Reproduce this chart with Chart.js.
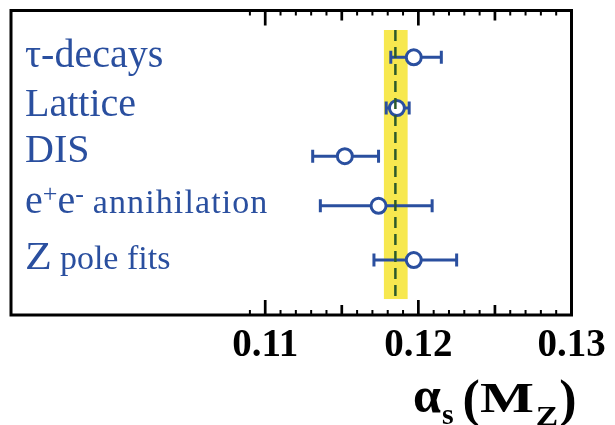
<!DOCTYPE html>
<html><head><meta charset="utf-8">
<script src="https://cdn.jsdelivr.net/npm/chart.js@4.4.1/dist/chart.umd.min.js"></script>
<style>html,body{margin:0;padding:0;background:#fff;}#wrap{width:615px;height:425px;position:relative;}</style>
</head><body><div id="wrap"><canvas id="c"></canvas></div>
<script>
// ---- data ----
const categories = ['τ-decays', 'Lattice', 'DIS', 'e+e- annihilation', 'Z pole fits'];
const rows = [1, 2, 2.95, 3.93, 5];
const centralValues = [0.1197, 0.1186, 0.1152, 0.1174, 0.1197];
const lowerValues   = [0.1182, 0.1179, 0.1131, 0.1136, 0.1171];
const upperValues   = [0.1215, 0.1194, 0.1174, 0.1209, 0.1225];
const worldAverage = [0.1185];
const worldBand = [0.11775, 0.1193];
const bandRows = [0.46, 5.77];
const tickValues = [0.11, 0.12, 0.13];
const tickLabels = ['0.11', '0.12', '0.13'];
const axisRange = [0.0934, 0.13];
const rowRange = [0.075, 6.085];

const BLUE = '#2a4f9f';
const SERIF = '"Liberation Serif", "Times New Roman", serif';

const datasets = [];
// dashed world-average line (on top)
datasets.push({
  type: 'scatter', showLine: true,
  data: [{x: worldAverage[0], y: bandRows[0]}, {x: worldAverage[0], y: bandRows[1]}],
  borderColor: '#2c5a2a', borderWidth: 2.5, borderDash: [11, 6], pointRadius: 0
});
// central values
datasets.push({
  type: 'scatter',
  data: centralValues.map((v, i) => ({x: v, y: rows[i]})),
  pointStyle: 'circle', pointRadius: 7.5, pointBorderWidth: 3,
  pointBackgroundColor: '#ffffff', pointBorderColor: BLUE
});
// error bars
centralValues.forEach((v, i) => {
  datasets.push({
    type: 'scatter', showLine: true,
    data: [{x: lowerValues[i], y: rows[i]}, {x: upperValues[i], y: rows[i]}],
    borderColor: BLUE, borderWidth: 3,
    pointStyle: 'line', rotation: 90, pointRadius: 6.5, pointBorderWidth: 3,
    pointBorderColor: BLUE
  });
});

function drawRuns(ctx, runs, x, y) {
  for (const r of runs) {
    ctx.save();
    ctx.font = r.font;
    ctx.fillStyle = r.color;
    ctx.textBaseline = 'alphabetic';
    ctx.textAlign = 'left';
    if (r.ls) ctx.letterSpacing = r.ls + 'px';
    const sx = r.sx || 1;
    ctx.translate(x, y + (r.dy || 0));
    ctx.scale(sx, 1);
    ctx.fillText(r.t, 0, 0);
    const w = ctx.measureText(r.t).width * sx;
    ctx.restore();
    x += w + (r.gap || 0);
  }
  return x;
}

function labelRuns(label) {
  const big = '40px ' + SERIF, small = '34px ' + SERIF, sup = '26px ' + SERIF;
  const m = label.match(/^(e)(\+)(e)(-) (.*)$/);
  if (m) {
    return [
      {t: m[1], font: big, color: BLUE},
      {t: m[2], font: sup, color: BLUE, dy: -11},
      {t: m[3], font: big, color: BLUE},
      {t: m[4], font: sup, color: BLUE, dy: -11, gap: 9},
      {t: m[5], font: small, color: BLUE, ls: 1.1}
    ];
  }
  const z = label.match(/^(Z) (.*)$/);
  if (z) {
    return [
      {t: z[1], font: big, color: BLUE, sx: 1.1, gap: 8},
      {t: z[2], font: small, color: BLUE}
    ];
  }
  return [{t: label, font: big, color: BLUE}];
}

const labelOffsets = [10, 8, 6, 7.5, 9];

const decor = {
  id: 'decor',
  beforeDatasetsDraw(chart) {
    const {ctx, scales: {x, y}} = chart;
    ctx.save();
    ctx.fillStyle = '#f7e84f';
    const x0 = x.getPixelForValue(worldBand[0]), x1 = x.getPixelForValue(worldBand[1]);
    const y0 = y.getPixelForValue(bandRows[0]), y1 = y.getPixelForValue(bandRows[1]);
    ctx.fillRect(x0, y0, x1 - x0, y1 - y0);
    ctx.restore();
  },
  afterDraw(chart) {
    const {ctx, chartArea: a, scales: {x, y}} = chart;
    ctx.save();
    // frame
    ctx.strokeStyle = '#000';
    ctx.lineWidth = 3;
    ctx.strokeRect(a.left, a.top, a.right - a.left, a.bottom - a.top);
    // inward ticks on bottom and top
    for (const t of x.ticks) {
      const k = Math.round(t.value * 1000);
      if (k < 109 || k > 130) continue;
      const px = x.getPixelForValue(t.value);
      const len = k % 10 === 0 ? 15 : (k % 5 === 0 ? 10 : 5);
      ctx.lineWidth = k % 5 === 0 ? 2.7 : 2;
      ctx.beginPath();
      ctx.moveTo(px, a.bottom); ctx.lineTo(px, a.bottom - len);
      ctx.moveTo(px, a.top); ctx.lineTo(px, a.top + len);
      ctx.stroke();
    }
    ctx.restore();
    // category labels
    categories.forEach((c, i) => {
      drawRuns(ctx, labelRuns(c), 25, y.getPixelForValue(rows[i]) + labelOffsets[i]);
    });
    // axis title  alpha_s (M_Z)
    const tb = 'bold ';
    const runs = [
      {t: 'α', font: tb + '50px ' + SERIF, color: '#000', gap: 1},
      {t: 's', font: tb + '30px ' + SERIF, color: '#000', dy: 12, gap: 9},
      {t: '(', font: tb + '52px ' + SERIF, color: '#000', dy: 4},
      {t: 'M', font: tb + '42px ' + SERIF, color: '#000', sx: 1.36, gap: 2},
      {t: 'Z', font: tb + '28px ' + SERIF, color: '#000', dy: 13, sx: 1.2, gap: 1},
      {t: ')', font: tb + '52px ' + SERIF, color: '#000', dy: 4}
    ];
    drawRuns(ctx, runs, 413, 412);
  }
};

new Chart(document.getElementById('c'), {
  type: 'scatter',
  data: {datasets},
  options: {
    responsive: true, maintainAspectRatio: false, animation: false,
    devicePixelRatio: 1,
    layout: {padding: {left: 11, right: 43.5, top: 6.5, bottom: 0}},
    plugins: {legend: {display: false}, tooltip: {enabled: false}},
    scales: {
      x: {
        type: 'linear', min: axisRange[0], max: axisRange[1],
        grid: {display: false, drawTicks: false},
        border: {display: false},
        ticks: {
          stepSize: 0.001, autoSkip: false, maxRotation: 0, padding: 8,
          font: {family: SERIF, size: 39, weight: 'bold'}, color: '#000',
          callback: (v) => {
            const i = tickValues.findIndex(t => Math.abs(t - v) < 1e-6);
            return i >= 0 ? tickLabels[i] : '';
          }
        },
        afterFit: (s) => { s.height = 110; }
      },
      y: {
        type: 'linear', min: rowRange[0], max: rowRange[1], reverse: true,
        display: false
      }
    }
  },
  plugins: [decor]
});
</script>
</body></html>
